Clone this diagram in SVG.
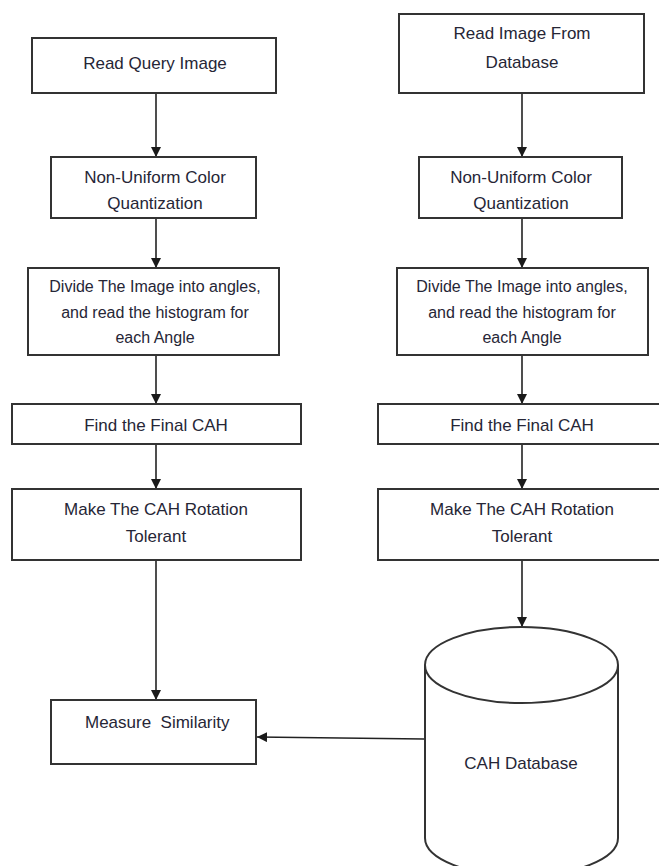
<svg xmlns="http://www.w3.org/2000/svg" width="659" height="866" viewBox="0 0 659 866">
<defs>
<marker id="arr" viewBox="0 0 10 10" refX="10" refY="5" markerWidth="10" markerHeight="10" markerUnits="userSpaceOnUse" orient="auto">
<path d="M0,0 L10,5 L0,10 Z" fill="#1a1a1a"/>
</marker>
<style>
.box{fill:#fff;stroke:#333;stroke-width:2}
.t{font-family:"Liberation Sans",Arial,sans-serif;font-size:17px;fill:#262636;text-anchor:middle}
.t2{font-family:"Liberation Sans",Arial,sans-serif;font-size:16px;fill:#262636;text-anchor:middle}
.c{fill:none;stroke:#222;stroke-width:1.6;marker-end:url(#arr)}
.cyl{fill:#fff;stroke:#333;stroke-width:2}
</style>
</defs>
<rect width="659" height="866" fill="#fff"/>
<g id="connectors">
<line class="c" x1="156" y1="93" x2="156" y2="157"/>
<line class="c" x1="156" y1="218" x2="156" y2="268"/>
<line class="c" x1="156" y1="355" x2="156" y2="404"/>
<line class="c" x1="156" y1="444" x2="156" y2="489"/>
<line class="c" x1="156" y1="560" x2="156" y2="700"/>
<line class="c" x1="522" y1="93" x2="522" y2="157"/>
<line class="c" x1="522" y1="218" x2="522" y2="268"/>
<line class="c" x1="522" y1="355" x2="522" y2="404"/>
<line class="c" x1="522" y1="444" x2="522" y2="489"/>
<line class="c" x1="522" y1="560" x2="522" y2="627"/>
<line class="c" x1="424" y1="739" x2="257" y2="737"/>
</g>
<g id="read-query">
<rect class="box" x="32" y="38" width="244" height="55"/>
<text class="t" x="155" y="69">Read Query Image</text>
</g>
<g id="quant-left">
<rect class="box" x="51" y="157" width="205" height="61"/>
<text class="t" x="155" y="183">Non-Uniform Color</text>
<text class="t" x="155" y="209">Quantization</text>
</g>
<g id="divide-left">
<rect class="box" x="28" y="268" width="251" height="87"/>
<text class="t2" x="155" y="292">Divide The Image into angles,</text>
<text class="t2" x="155" y="318">and read the histogram for</text>
<text class="t2" x="155" y="343">each Angle</text>
</g>
<g id="final-left">
<rect class="box" x="12" y="404" width="289" height="40"/>
<text class="t" x="156" y="431">Find the Final CAH</text>
</g>
<g id="rotate-left">
<rect class="box" x="12" y="489" width="289" height="71"/>
<text class="t" x="156" y="515">Make The CAH Rotation</text>
<text class="t" x="156" y="542">Tolerant</text>
</g>
<g id="measure">
<rect class="box" x="51" y="700" width="205" height="64"/>
<text class="t" x="85" y="728" style="text-anchor:start" xml:space="preserve">Measure  Similarity</text>
</g>
<g id="read-db">
<rect class="box" x="399" y="14" width="245" height="79"/>
<text class="t" x="522" y="39">Read Image From</text>
<text class="t" x="522" y="68">Database</text>
</g>
<g id="quant-right">
<rect class="box" x="419" y="157" width="203" height="61"/>
<text class="t" x="521" y="183">Non-Uniform Color</text>
<text class="t" x="521" y="209">Quantization</text>
</g>
<g id="divide-right">
<rect class="box" x="397" y="268" width="251" height="87"/>
<text class="t2" x="522" y="292">Divide The Image into angles,</text>
<text class="t2" x="522" y="318">and read the histogram for</text>
<text class="t2" x="522" y="343">each Angle</text>
</g>
<g id="final-right">
<rect class="box" x="378" y="404" width="290" height="40"/>
<text class="t" x="522" y="431">Find the Final CAH</text>
</g>
<g id="rotate-right">
<rect class="box" x="378" y="489" width="290" height="71"/>
<text class="t" x="522" y="515">Make The CAH Rotation</text>
<text class="t" x="522" y="542">Tolerant</text>
</g>
<g id="cah-db">
<path class="cyl" d="M425,665 L425,838 A96.5,38 0 0 0 618,838 L618,665 A96.5,38 0 0 0 425,665 Z"/>
<path class="cyl" d="M425,665 A96.5,38 0 0 0 618,665" fill="none"/>
<text class="t" x="521" y="769">CAH Database</text>
</g>
</svg>
